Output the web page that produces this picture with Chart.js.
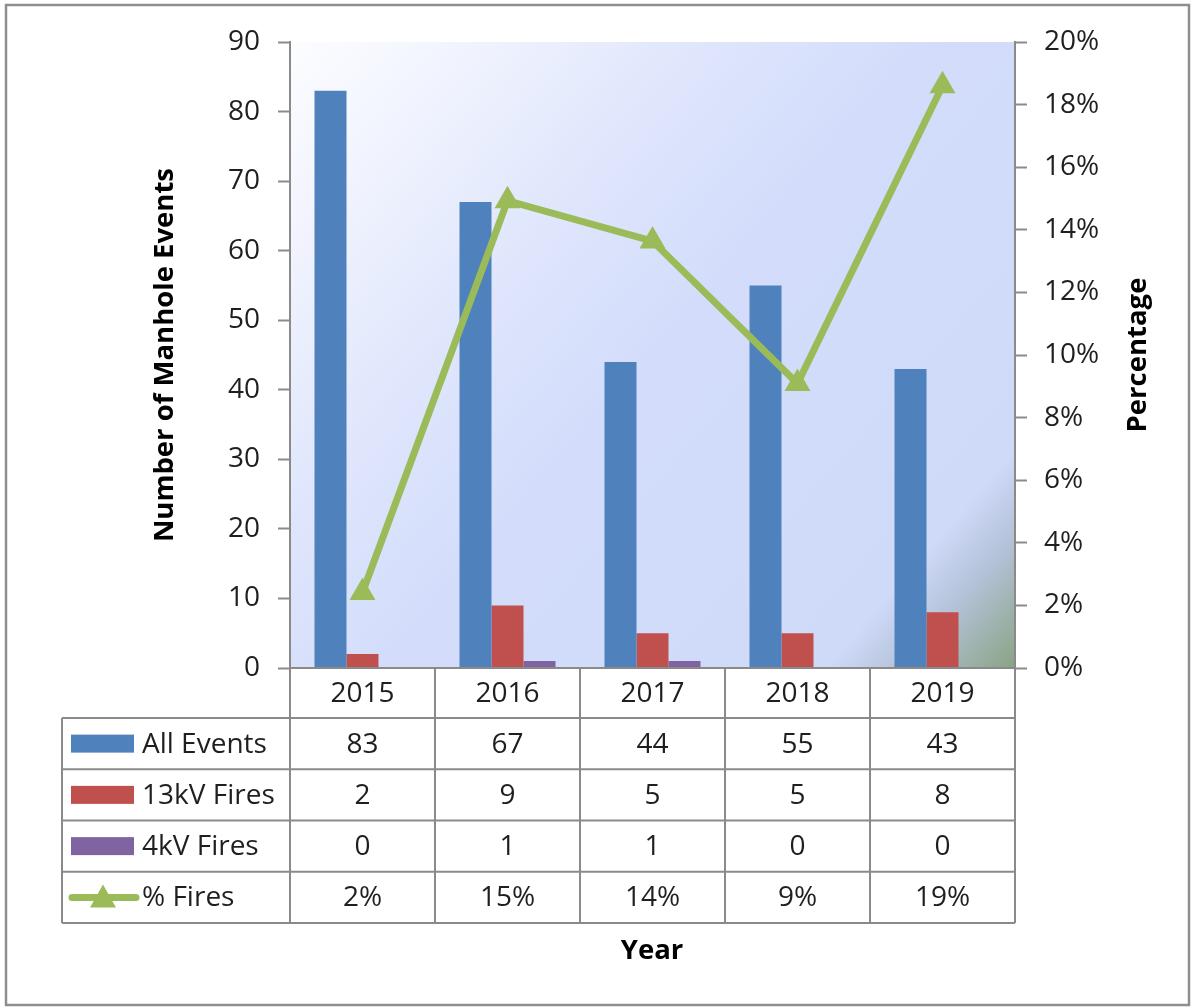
<!DOCTYPE html>
<html>
<head>
<meta charset="utf-8">
<title>Manhole Events by Year</title>
<script src="https://cdn.jsdelivr.net/npm/chart.js@4/dist/chart.umd.min.js"></script>
<style>
  html, body { margin: 0; padding: 0; background: #ffffff; }
  canvas { display: block; }
</style>
</head>
<body>
<canvas id="chart" width="1193" height="1008"></canvas>
<script>
// ---- data ----
const years      = ['2015', '2016', '2017', '2018', '2019'];
const allEvents  = [83, 67, 44, 55, 43];
const fires13kV  = [2, 9, 5, 5, 8];
const fires4kV   = [0, 1, 1, 0, 0];
const pctFires   = [0.0241, 0.1493, 0.1364, 0.0909, 0.1860];

const seriesNames = ['All Events', '13kV Fires', '4kV Fires', '% Fires'];
const leftAxisTitle  = 'Number of Manhole Events';
const rightAxisTitle = 'Percentage';
const categoryTitle  = 'Year';

// ---- styling ----
const FONT = '"Open Sans", "DejaVu Sans", sans-serif';
const TEXT = '#1f1f1f';
const LINE_GREY = '#8a8a8a';
const BLUE = '#4F81BD', RED = '#C0504D', PURPLE = '#8064A2', GREEN = '#9BBB59';

const fmtCount = v => String(v);
const fmtPct = v => Math.round(v * 100) + '%';

// Plot background, outer frame
const backgroundPlugin = {
  id: 'plotBackground',
  beforeDraw(chart) {
    const { ctx, chartArea: a, width, height } = chart;
    ctx.save();
    ctx.fillStyle = '#ffffff';
    ctx.fillRect(0, 0, width, height);
    const g = ctx.createLinearGradient(a.left, a.top, a.right, a.bottom);
    g.addColorStop(0.00, '#fcfdff');
    g.addColorStop(0.14, '#f1f4fe');
    g.addColorStop(0.34, '#dee5fc');
    g.addColorStop(0.50, '#d3ddfb');
    g.addColorStop(0.85, '#cfdaf9');
    g.addColorStop(0.91, '#b4c2d8');
    g.addColorStop(1.00, '#89a383');
    ctx.fillStyle = g;
    ctx.fillRect(a.left, a.top, a.right - a.left, a.bottom - a.top);
    ctx.strokeStyle = '#8e8e8e';
    ctx.lineWidth = 2.5;
    ctx.strokeRect(6, 5, 1183, 1000);
    ctx.restore();
  }
};

// Data table under the plot, axis titles
const tablePlugin = {
  id: 'dataTable',
  afterDraw(chart) {
    const { ctx, chartArea: a, scales } = chart;
    const x = scales.x;
    const n = years.length;
    const colW = (a.right - a.left) / n;
    const top = a.bottom;
    const headH = 50;
    const rowH = 51.25;
    const tableLeft = 62;
    const rows = [
      { label: seriesNames[0], values: allEvents, fmt: fmtCount, key: 'rect', color: BLUE },
      { label: seriesNames[1], values: fires13kV, fmt: fmtCount, key: 'rect', color: RED },
      { label: seriesNames[2], values: fires4kV,  fmt: fmtCount, key: 'rect', color: PURPLE },
      { label: seriesNames[3], values: pctFires,  fmt: fmtPct,   key: 'line', color: GREEN }
    ];
    const bodyTop = top + headH;
    const bottom = bodyTop + rowH * rows.length;

    ctx.save();
    ctx.strokeStyle = LINE_GREY;
    ctx.lineWidth = 2;
    ctx.beginPath();
    // header row
    ctx.moveTo(a.left, top); ctx.lineTo(a.right, top);
    for (let i = 0; i <= n; i++) {
      const xx = a.left + i * colW;
      ctx.moveTo(xx, top); ctx.lineTo(xx, bottom);
    }
    // body rows
    for (let r = 0; r <= rows.length; r++) {
      const yy = bodyTop + r * rowH;
      ctx.moveTo(tableLeft, yy); ctx.lineTo(a.right, yy);
    }
    ctx.moveTo(tableLeft, bodyTop); ctx.lineTo(tableLeft, bottom);
    ctx.stroke();

    ctx.fillStyle = TEXT;
    ctx.font = '28px ' + FONT;
    ctx.textAlign = 'center';
    ctx.textBaseline = 'middle';
    years.forEach((yr, i) => {
      ctx.fillText(yr, x.getPixelForValue(i), top + headH / 2 + 1);
    });

    rows.forEach((row, r) => {
      const cy = bodyTop + r * rowH + rowH / 2;
      // legend key
      if (row.key === 'rect') {
        ctx.fillStyle = row.color;
        ctx.fillRect(71, cy - 9, 63, 18);
      } else {
        ctx.strokeStyle = row.color;
        ctx.lineWidth = 7;
        ctx.lineCap = 'round';
        ctx.beginPath();
        ctx.moveTo(72, cy); ctx.lineTo(136, cy);
        ctx.stroke();
        ctx.fillStyle = row.color;
        ctx.beginPath();
        ctx.moveTo(103, cy - 13);
        ctx.lineTo(116, cy + 10);
        ctx.lineTo(90, cy + 10);
        ctx.closePath();
        ctx.fill();
      }
      ctx.fillStyle = TEXT;
      ctx.textAlign = 'left';
      ctx.fillText(row.label, 142, cy + 1);
      ctx.textAlign = 'center';
      row.values.forEach((v, i) => {
        ctx.fillText(row.fmt(v), x.getPixelForValue(i), cy + 1);
      });
    });

    // axis titles
    ctx.font = 'bold 27.5px ' + FONT;
    ctx.fillStyle = '#000000';
    ctx.textAlign = 'center';
    ctx.textBaseline = 'middle';
    ctx.fillText(categoryTitle, 652, 951);
    const midY = (a.top + a.bottom) / 2;
    [[165, leftAxisTitle], [1138, rightAxisTitle]].forEach(([tx, txt]) => {
      ctx.save();
      ctx.translate(tx, midY);
      ctx.rotate(-Math.PI / 2);
      ctx.fillText(txt, 0, 0);
      ctx.restore();
    });
    ctx.restore();
  }
};

const tickFont = { family: FONT, size: 28 };

new Chart(document.getElementById('chart'), {
  type: 'bar',
  data: {
    labels: years,
    datasets: [
      {
        type: 'line', label: seriesNames[3], data: pctFires, yAxisID: 'y1', order: 0,
        borderColor: GREEN, backgroundColor: GREEN, borderWidth: 7,
        pointStyle: 'triangle', pointRadius: 15, pointBackgroundColor: GREEN,
        pointBorderColor: GREEN, pointBorderWidth: 0, tension: 0
      },
      { label: seriesNames[0], data: allEvents, backgroundColor: BLUE, yAxisID: 'y', order: 1 },
      { label: seriesNames[1], data: fires13kV, backgroundColor: RED,  yAxisID: 'y', order: 1 },
      { label: seriesNames[2], data: fires4kV,  backgroundColor: PURPLE, yAxisID: 'y', order: 1 }
    ]
  },
  options: {
    responsive: false,
    animation: false,
    devicePixelRatio: 1,
    layout: { padding: { top: 42, bottom: 340, left: 0, right: 0 } },
    datasets: { bar: { categoryPercentage: 0.662, barPercentage: 1.0, borderWidth: 0 } },
    plugins: { legend: { display: false }, tooltip: { enabled: false } },
    scales: {
      x: { display: false, offset: true },
      y: {
        position: 'left', min: 0, max: 90,
        ticks: { stepSize: 10, font: tickFont, color: TEXT, padding: 18 },
        grid: { drawOnChartArea: false, drawTicks: true, tickLength: 12, tickColor: LINE_GREY, tickWidth: 2 },
        border: { display: true, color: LINE_GREY, width: 2 },
        afterFit(s) { s.width = 290; }
      },
      y1: {
        position: 'right', min: 0, max: 0.2,
        ticks: { stepSize: 0.02, font: tickFont, color: TEXT, padding: 17, callback: v => fmtPct(v) },
        grid: { drawOnChartArea: false, drawTicks: true, tickLength: 12, tickColor: LINE_GREY, tickWidth: 2 },
        border: { display: true, color: LINE_GREY, width: 2 },
        afterFit(s) { s.width = 178; }
      }
    }
  },
  plugins: [backgroundPlugin, tablePlugin]
});
</script>
</body>
</html>
